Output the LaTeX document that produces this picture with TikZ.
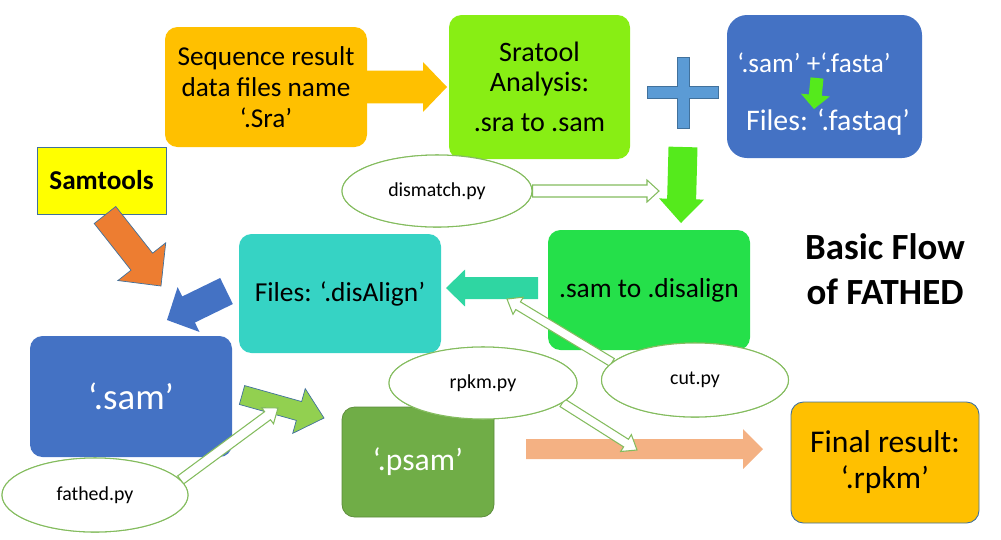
\documentclass[tikz,border=0pt]{standalone}
\usepackage{fontspec}
\setmainfont{Carlito}
\usetikzlibrary{calc,shapes.geometric,positioning}

\definecolor{seqOrange}{HTML}{FFC000}
\definecolor{sraLime}{HTML}{88EE14}
\definecolor{fastqBlue}{HTML}{4472C4}
\definecolor{plusBlue}{HTML}{5B9BD5}
\definecolor{edgeBlue}{HTML}{41719C}
\definecolor{toolYellow}{HTML}{FFFF00}
\definecolor{toolOrange}{HTML}{ED7D31}
\definecolor{disTeal}{HTML}{36D3C4}
\definecolor{disArrow}{HTML}{2FD6A2}
\definecolor{cutGreen}{HTML}{25E04A}
\definecolor{bigGreen}{HTML}{55EA1C}
\definecolor{psamGreen}{HTML}{70AD47}
\definecolor{samArrow}{HTML}{92D050}
\definecolor{rpkmSalmon}{HTML}{F4B183}
\definecolor{ovalGreen}{HTML}{84BC5E}

% block arrow: [style]{from}{to}{shaft}{head width}{head length}, all in px
\newcommand{\blockArrow}[6][]{%
  \pgfmathsetmacro\halfShaft{#4*0.01}%
  \pgfmathsetmacro\halfHead{#5*0.01}%
  \pgfmathsetmacro\headLen{#6*0.02}%
  \coordinate (hb) at ($(#3)!\headLen cm!(#2)$);
  \filldraw[#1] ($(#2)!\halfShaft cm!90:(#3)$) -- ($(hb)!\halfShaft cm!90:(#3)$)
    -- ($(hb)!\halfHead cm!90:(#3)$) -- (#3) -- ($(hb)!\halfHead cm!-90:(#3)$)
    -- ($(hb)!\halfShaft cm!-90:(#3)$) -- ($(#2)!\halfShaft cm!-90:(#3)$) -- cycle;
}

\begin{document}
\begin{tikzpicture}[x=0.02cm,y=-0.02cm,
    sized/.style 2 args={minimum width=#1*0.02cm, minimum height=#2*0.02cm},
    flowBox/.style={rounded corners=0.25cm, align=center, inner sep=0pt},
    scriptOval/.style={ellipse, draw=ovalGreen, line width=0.6pt, fill=white,
      inner sep=0pt, font=\fontsize{11.3}{13}\selectfont},
    hollowArrow/.style={draw=ovalGreen, fill=white, line width=0.6pt}]

  \useasboundingbox (0,0) rectangle (1001,539);

  % the boxes
  \node[flowBox, sized={202}{120}, fill=seqOrange, font=\fontsize{15.5}{17.6}\selectfont] (seq) at (266,87)
    {Sequence result\\data files name\\`.Sra'};
  \node[flowBox, sized={181}{144}, fill=sraLime, font=\fontsize{16}{17}\selectfont] (sra) at (539.5,87)
    {Sratool\\Analysis:\\[5.5pt].sra to .sam};
  \node[flowBox, sized={195}{143}, fill=fastqBlue, rounded corners=0.4cm] (fastq) at (824.5,86.5) {};
  \node[text=white, font=\fontsize{15.5}{16}\selectfont] (pair) at (814,63) {`.sam' +`.fasta'};
  \node[text=white, font=\fontsize{17}{20}\selectfont] (fastqName) at (828,122) {Files: `.fastaq'};
  \node[draw=edgeBlue, fill=toolYellow, sized={129}{67}, inner sep=0pt,
    font=\fontsize{15.5}{17}\selectfont\bfseries] (samtools) at (101.5,180.5) {Samtools};
  \node[flowBox, sized={202}{119}, fill=disTeal, font=\fontsize{15.6}{18}\selectfont] (disalign) at (340,293.5)
    {Files: `.disAlign'};
  \node[flowBox, sized={202}{120}, fill=cutGreen, font=\fontsize{15.6}{18}\selectfont] (samdis) at (649,290)
    {.sam to .disalign};
  \node[flowBox, sized={202}{121}, fill=fastqBlue, text=white, font=\fontsize{21}{24}\selectfont] (sam) at (131,396.5)
    {`.sam'};
  \node[flowBox, sized={152}{110}, fill=psamGreen, draw=psamGreen!80!black, line width=0.4pt,
    text=white, font=\fontsize{18}{21}\selectfont] (psam) at (418,462) {`.psam'};
  \node[flowBox, sized={188}{121}, fill=seqOrange, draw=edgeBlue, line width=0.5pt,
    font=\fontsize{18}{20.5}\selectfont] (final) at (885,462.5) {Final result:\\`.rpkm'};
  \node[align=center, font=\fontsize{21}{25.5}\selectfont\bfseries] (title) at (885,269)
    {Basic Flow\\of FATHED};

  % the plus sign
  \filldraw[fill=plusBlue, draw=edgeBlue, line width=0.5pt]
    (677,57) -- (689,57) -- (689,86) -- (718,86) -- (718,98) -- (689,98) -- (689,128)
    -- (677,128) -- (677,98) -- (647,98) -- (647,86) -- (677,86) -- cycle;

  % the block arrows
  \coordinate (seqTail) at (367,87);
  \coordinate (seqTip) at (447,87);
  \blockArrow[fill=seqOrange, draw=none]{seqTail}{seqTip}{33}{50}{24}
  \coordinate (pairTail) at (817,78);
  \coordinate (pairTip) at (814,109);
  \blockArrow[fill=bigGreen, draw=none]{pairTail}{pairTip}{13}{29}{14}
  \coordinate (sraTail) at (683,147);
  \coordinate (sraTip) at (681,223);
  \blockArrow[fill=bigGreen, draw=none]{sraTail}{sraTip}{29}{45}{24}
  \coordinate (disTail) at (538,288);
  \coordinate (disTip) at (446,288);
  \blockArrow[fill=disArrow, draw=none]{disTail}{disTip}{22}{37}{19}
  \coordinate (toolTail) at (105,215);
  \coordinate (toolTip) at (161,286);
  \blockArrow[fill=toolOrange, draw=edgeBlue, line width=0.4pt]{toolTail}{toolTip}{27.5}{61}{31}
  \coordinate (backTail) at (226.5,291);
  \coordinate (backTip) at (167,320);
  \blockArrow[fill=fastqBlue, draw=none]{backTail}{backTip}{29}{50}{24}
  \coordinate (samTail) at (242,395);
  \coordinate (samTip) at (324,418);
  \blockArrow[fill=samArrow, draw=edgeBlue, line width=0.4pt]{samTail}{samTip}{19.6}{46.5}{26}
  \coordinate (rpkmTail) at (526,449);
  \coordinate (rpkmTip) at (763,449);
  \blockArrow[fill=rpkmSalmon, draw=none]{rpkmTail}{rpkmTip}{20}{40}{20}

  % the scripts
  \node[scriptOval, sized={190}{72}] (dismatch) at (437,191) {dismatch.py};
  \node[scriptOval, sized={186}{74}] (fathed) at (95,495) {fathed.py};
  \node[scriptOval, sized={188}{72}] (rpkm) at (483,383) {rpkm.py};
  \node[scriptOval, sized={187}{74}] (cut) at (695,380) {cut.py};

  % hollow arrows from the scripts
  \coordinate (dismatchTip) at (659,191);
  \blockArrow[hollowArrow]{dismatch.east}{dismatchTip}{12}{22}{12}
  \coordinate (fathedTip) at (278,408);
  \blockArrow[hollowArrow]{fathed.10}{fathedTip}{10}{20}{13}
  \coordinate (rpkmScriptTip) at (637,450);
  \blockArrow[hollowArrow]{rpkm.-14}{rpkmScriptTip}{9}{20}{13}
  \coordinate (cutTip) at (507,299);
  \blockArrow[hollowArrow]{cut.168}{cutTip}{9}{20}{13}

  % ovals again on top of the arrow tails
  \node[scriptOval, sized={190}{72}] (dismatchTop) at (dismatch) {dismatch.py};
  \node[scriptOval, sized={186}{74}] (fathedTop) at (fathed) {fathed.py};
  \node[scriptOval, sized={188}{72}] (rpkmTop) at (rpkm) {rpkm.py};
  \node[scriptOval, sized={187}{74}] (cutTop) at (cut) {cut.py};

\end{tikzpicture}
\end{document}
